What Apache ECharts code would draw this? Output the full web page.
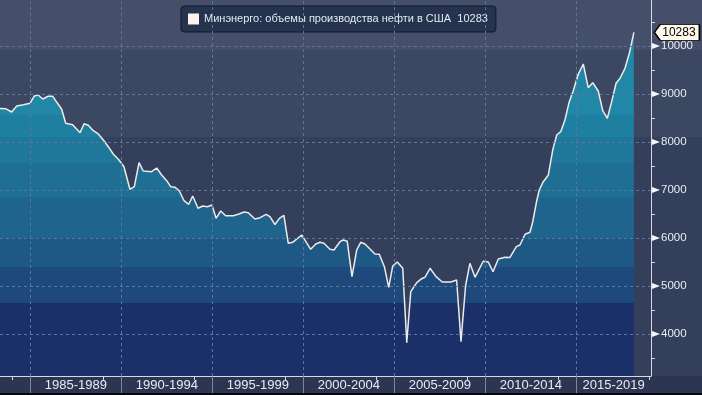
<!DOCTYPE html>
<html><head><meta charset="utf-8">
<script src="https://cdn.jsdelivr.net/npm/echarts@6/dist/echarts.min.js"></script>
<style>
html,body{margin:0;padding:0;background:#000;}
#c{width:702px;height:395px;background:linear-gradient(to bottom,#454f69 0px,#454f69 50px,#3c4762 50px,#3c4762 137px,#343f5c 137px,#343f5c 376px,#2c3652 376px,#2c3652 393px,#05070c 393px);}
</style></head><body><div id="c"></div>
<script>
const seriesName = 'Минэнерго: объемы производства нефти в США';
const years = [1983.33,1983.66,1983.97,1984.25,1984.61,1984.98,1985.21,1985.43,1985.68,1985.98,
1986.23,1986.45,1986.72,1986.94,1987.32,1987.73,1987.95,1988.18,1988.46,1988.73,
1989.01,1989.28,1989.55,1989.87,1990.14,1990.47,1990.71,1990.97,1991.20,1991.66,
1991.94,1992.21,1992.49,1992.71,1992.95,1993.18,1993.44,1993.70,1993.92,1994.21,
1994.47,1994.72,1994.98,1995.20,1995.46,1995.73,1996.15,1996.46,1996.74,1996.97,
1997.34,1997.62,1997.95,1998.16,1998.44,1998.68,1998.93,1999.17,1999.41,1999.91,
2000.40,2000.68,2000.91,2001.13,2001.46,2001.68,2002.01,2002.19,2002.41,2002.67,
2002.93,2003.15,2003.38,2003.66,2003.93,2004.17,2004.45,2004.69,2004.91,2005.16,
2005.46,2005.68,2005.90,2006.23,2006.50,2006.68,2006.96,2007.29,2007.63,2008.11,
2008.42,2008.66,2008.91,2009.15,2009.43,2009.88,2010.16,2010.42,2010.71,2011.08,
2011.35,2011.70,2011.90,2012.18,2012.45,2012.60,2012.82,2012.96,2013.18,2013.46,
2013.70,2013.92,2014.14,2014.37,2014.61,2014.83,2015.10,2015.38,2015.65,2015.90,
2016.20,2016.45,2016.70,2016.94,2017.18,2017.40,2017.67,2017.91,2018.16];
const values = [8700,8690,8625,8750,8777,8806,8958,8979,8896,8952,
8952,8827,8681,8390,8360,8194,8381,8348,8235,8167,
8042,7902,7750,7625,7485,7015,7069,7569,7396,7381,
7458,7313,7194,7069,7056,6985,6777,6702,6875,6619,
6667,6652,6688,6410,6563,6465,6465,6500,6542,6527,
6396,6423,6494,6444,6281,6410,6473,5890,5910,6063,
5765,5875,5910,5890,5765,5750,5923,5958,5931,5194,
5750,5910,5875,5771,5667,5660,5402,4973,5417,5500,
5369,3819,4881,5069,5152,5181,5369,5194,5083,5083,
5125,3840,5000,5473,5181,5515,5500,5296,5563,5598,
5594,5819,5854,6077,6119,6333,6771,7000,7173,7313,
7833,8146,8215,8458,8840,9069,9410,9625,9131,9235,
9063,8652,8494,8840,9223,9327,9535,9848,10283];
const periodStarts = [1985,1990,1995,2000,2005,2010,2015];
const periodLabels = ['1985-1989','1990-1994','1995-1999','2000-2004','2005-2009','2010-2014','2015-2019'];
const xMinorTicks = [1984,1989,1994,1999,2004,2009,2014,2019];
const yMajorTicks = [4000,5000,6000,7000,8000,9000,10000];
const yMinorTicks = [3500,4500,5500,6500,7500,8500,9500,10500];
const bandBreaks = [4646,5396,6000,6854,7562,8104,8562];
const bandColors = ['#1b2f68','#1d497c','#1e5986','#1f648c','#1f6e93','#1f779a','#1f7fa0','#2087a6'];

const X_MIN = 1983.33, X_MAX = 2019.1, Y_MIN = 3125, Y_MAX = 10958;
const FONT = "'Liberation Sans',Arial,sans-serif";
const mids = periodStarts.map(s => (s + Math.min(s + 5, X_MAX)) / 2);
const lastYear = years[years.length - 1], lastValue = values[values.length - 1];

const pieces = bandColors.map((c, i) => {
  const p = { color: c };
  if (i > 0) p.gte = bandBreaks[i - 1];
  if (i < bandBreaks.length) p.lt = bandBreaks[i];
  return p;
});

const tickPointers = yMajorTicks.map(v => ({
  coord: [X_MAX, v], value: v,
  symbol: 'path://M0,0 L8,3 L0,6 Z', symbolSize: [8, 6], symbolOffset: [5, 0],
  itemStyle: { color: '#f4f6fa', borderWidth: 0 },
  label: { show: false }
}));

const chart = echarts.init(document.getElementById('c'), null, { renderer: 'canvas' });
const gridLine = { color: '#56789c', width: 1, type: [3, 3] };
chart.setOption({
  backgroundColor: 'transparent',
  animation: false,
  grid: { left: 0, right: 51, top: 0, bottom: 19, containLabel: false },
  legend: {
    left: 181, top: 6, padding: [6, 8, 6, 7], itemWidth: 11, itemHeight: 11, itemGap: 5,
    icon: 'rect', backgroundColor: '#26334f', borderColor: '#10172a', borderWidth: 1, borderRadius: 3,
    textStyle: { color: '#e4e9f2', fontSize: 11, lineHeight: 14, fontFamily: FONT },
    itemStyle: { color: '#fdf3ea', borderWidth: 0 },
    formatter: n => n + '  ' + lastValue,
    data: [seriesName]
  },
  visualMap: { type: 'piecewise', show: false, dimension: 1, seriesIndex: 0, pieces: pieces },
  xAxis: [{
    type: 'value', min: X_MIN, max: X_MAX, z: 3,
    axisLine: { show: true, lineStyle: { color: '#d6dae4', width: 1 } },
    axisTick: { show: true, customValues: periodStarts, length: 17, lineStyle: { color: '#7d879b' } },
    axisLabel: { customValues: mids, color: '#e6ecf5', fontSize: 13, fontFamily: FONT, margin: 3,
      formatter: v => { const i = mids.findIndex(m => Math.abs(m - v) < 1e-6); return i >= 0 ? periodLabels[i] : ''; } },
    splitLine: { show: false }
  }, {
    type: 'value', min: X_MIN, max: X_MAX, position: 'bottom', z: 3,
    axisLine: { show: false },
    axisTick: { show: true, customValues: xMinorTicks, length: 4, lineStyle: { color: '#d6dae4' } },
    axisLabel: { show: false }, splitLine: { show: false }
  }],
  yAxis: [{
    type: 'value', position: 'right', min: Y_MIN, max: Y_MAX, z: 3,
    axisLine: { show: true, lineStyle: { color: '#d6dae4', width: 1 } },
    axisTick: { show: false, customValues: yMajorTicks },
    axisLabel: { customValues: yMajorTicks, margin: 10, align: 'left',
      color: '#e6ecf5', fontSize: 11.5, fontFamily: FONT, formatter: v => String(v) },
    splitLine: { show: false }
  }, {
    type: 'value', position: 'right', min: Y_MIN, max: Y_MAX, z: 3,
    axisLine: { show: false },
    axisTick: { show: true, customValues: yMinorTicks, length: 4, lineStyle: { color: '#d6dae4' } },
    axisLabel: { show: false }, splitLine: { show: false }
  }],
  series: [{
    name: seriesName, type: 'line', xAxisIndex: 0, yAxisIndex: 0, z: 2,
    data: years.map((y, i) => [y, values[i]]),
    symbol: 'none', showSymbol: false,
    lineStyle: { color: '#ebebeb', width: 1.5 },
    areaStyle: { opacity: 1 },
    markLine: {
      silent: true, symbol: 'none', label: { show: false },
      lineStyle: gridLine,
      data: yMajorTicks.map(v => ({ yAxis: v })).concat(periodStarts.map(v => ({ xAxis: v })))
    },
    markPoint: {
      silent: true,
      symbol: 'path://M0,8 L6,0 L46,0 L46,16 L6,16 Z',
      symbolSize: [45, 16], symbolOffset: [43, 0],
      itemStyle: { color: '#fff8ec', borderColor: '#000', borderWidth: 1 },
      label: { show: true, position: 'inside', color: '#000', fontSize: 12, fontFamily: FONT, offset: [2, 0], formatter: '{c}' },
      data: [{ coord: [lastYear, lastValue], value: lastValue }].concat(tickPointers)
    }
  }]
});
</script></body></html>
